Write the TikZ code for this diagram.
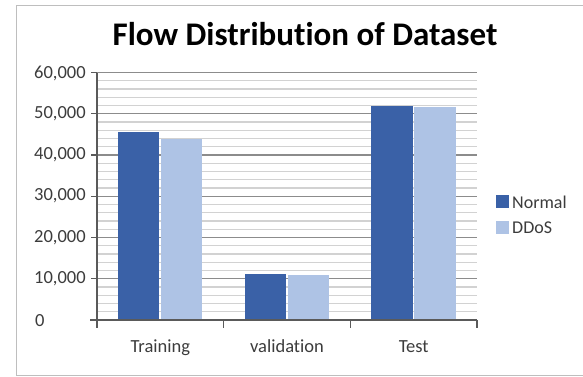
\documentclass[tikz,border=0pt]{standalone}
\usepackage{fontspec}
\setmainfont{Carlito}[Ligatures=NoCommon]
\definecolor{normalblue}{RGB}{58,97,167}
\definecolor{ddosblue}{RGB}{174,195,229}
\definecolor{majorgrid}{RGB}{140,140,140}
\definecolor{minorgrid}{RGB}{210,210,210}
\definecolor{axisgray}{RGB}{90,90,90}
\definecolor{labelgray}{RGB}{60,60,60}
\definecolor{framegray}{RGB}{190,190,190}
\tikzset{
  ticklabel/.style={anchor=west, inner sep=0pt, text=labelgray, font=\fontsize{18.5}{18.5}\selectfont},
  catlabel/.style={anchor=base, inner sep=0pt, text=labelgray, font=\fontsize{18.5}{18.5}\selectfont},
  legendtext/.style={anchor=west, inner sep=0pt, text=labelgray, font=\fontsize{18}{18}\selectfont},
  titletext/.style={anchor=center, inner sep=0pt, font=\bfseries\fontsize{33}{33}\selectfont},
  majorline/.style={draw=majorgrid, line width=1.3pt},
  minorline/.style={draw=minorgrid, line width=1.3pt},
  axisline/.style={draw=axisgray, line width=1.1pt},
  normalbar/.style={fill=normalblue},
  ddosbar/.style={fill=ddosblue},
}
\begin{document}
\begin{tikzpicture}[x=1pt, y=-1pt]
  \useasboundingbox (0,0) rectangle (583,376);
  \fill[white] (0,0) rectangle (583,376);
  % chart frame
  \draw[framegray, line width=1pt] (590,5) -- (16,5) -- (16,375) -- (590,375);

  % title
  \node[titletext] (title) at (305,34) {Flow Distribution of Dataset};

  % plot area: x in px, y in thousands
  \begin{scope}[shift={(0,320)}, yscale=-4.125]
    % minor grid every 2000
    \foreach \v in {2,4,6,8,12,14,16,18,22,24,26,28,32,34,36,38,42,44,46,48,52,54,56,58}
      \draw[minorline] (97,\v) -- (477,\v);
    % major grid every 10000
    \foreach \v in {10,20,30,40,50,60}
      \draw[majorline] (97,\v) -- (477,\v);

    % bars
    \fill[normalbar] (118,0) rectangle (159.3,45.5);
    \fill[ddosbar]   (161,0) rectangle (202.3,44.0);
    \fill[normalbar] (244.7,0) rectangle (286,11.1);
    \fill[ddosbar]   (287.7,0) rectangle (329,10.9);
    \fill[normalbar] (371.3,0) rectangle (412.6,52.0);
    \fill[ddosbar]   (414.3,0) rectangle (455.6,51.6);

    % axes and ticks
    \draw[axisline] (97,0) -- (97,60);
    \draw[axisline] (90,0) -- (477,0);
    \foreach \v in {10,20,30,40,50,60}
      \draw[axisline] (91,\v) -- (97,\v);
    \foreach \x in {97,223.7,350.3,477}
      \draw[axisline] (\x,0) -- (\x,-2);
  \end{scope}

  % value labels
  \node[ticklabel] (y60) at (34,73)  {60,000};
  \node[ticklabel] (y50) at (34,114) {50,000};
  \node[ticklabel] (y40) at (34,155) {40,000};
  \node[ticklabel] (y30) at (34,196) {30,000};
  \node[ticklabel] (y20) at (34,238) {20,000};
  \node[ticklabel] (y10) at (34,279) {10,000};
  \node[ticklabel] (y0)  at (35,321) {0};

  % category labels
  \node[catlabel] (ctrain) at (160.3,352) {Training};
  \node[catlabel] (cval)   at (287,352)   {validation};
  \node[catlabel] (ctest)  at (413.7,352) {Test};

  % legend
  \fill[normalblue] (496,195) rectangle (509,208);
  \fill[ddosblue]   (496,221) rectangle (509,234);
  \node[legendtext] (lnormal) at (512,202) {Normal};
  \node[legendtext] (lddos)   at (512,228) {DDoS};
\end{tikzpicture}
\end{document}
